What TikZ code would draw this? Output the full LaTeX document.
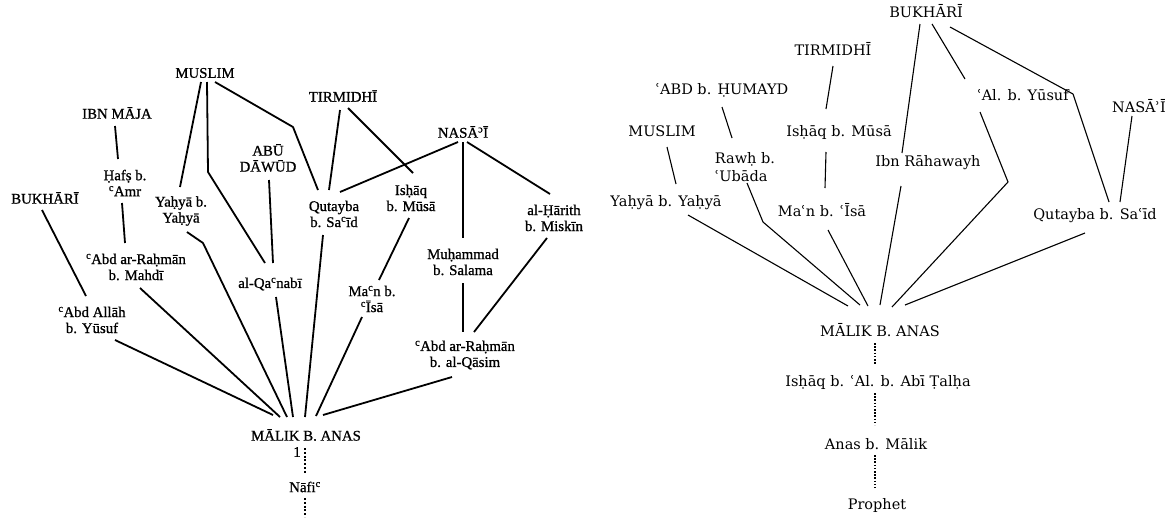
\documentclass[tikz,border=0pt]{standalone}
\usepackage{fontspec}
\newfontfamily\lfont[FakeBold=0.9]{Liberation Serif}
\newfontfamily\rfont{DejaVu Serif}
% raised ayn and hamza for the left tree
\newcommand{\ay}{\textsuperscript{c}}
\newcommand{\hz}{\textsuperscript{ɔ}}
\begin{document}
\begin{tikzpicture}[x=1pt,y=-1pt,
  lname/.style={font=\lfont\fontsize{14.8}{16}\selectfont, inner sep=0pt, align=center},
  rname/.style={font=\rfont\fontsize{14.5}{18}\selectfont, inner sep=0pt, align=center},
  llink/.style={line width=1.8pt, line join=round},
  rlink/.style={line width=1.1pt, line join=round},
  ldots/.style={line width=1.8pt, dash pattern=on 2pt off 1.8pt},
  rdots/.style={line width=1.2pt, dash pattern=on 1.6pt off 1.6pt}]
\useasboundingbox (0,0) rectangle (1173,517);

% ---------------- left tree ----------------
\node[lname] (muslimL)   at (205,73)  {MUSLIM};
\node[lname] (ibnmaja)   at (117,113) {IBN MĀJA};
\node[lname] (hafs)      at (125,183) {Ḥafṣ b.\\\ay Amr};
\node[lname] (bukhariL)  at (45,198)  {BUKHĀRĪ};
\node[lname] (yahyaL)    at (181,211) {Yaḥyā b.\\Yaḥyā};
\node[lname] (abudawud)  at (268,158) {ABŪ\\DĀWŪD};
\node[lname] (tirmidhiL) at (343,96)  {TIRMIDHĪ};
\node[lname] (nasaiL)    at (463,132) {NASĀ\hz Ī};
\node[lname] (qutaybaL)  at (334,214) {Qutayba\\b. Sa\ay īd};
\node[lname] (ishaqL)    at (411,198) {Isḥāq\\b. Mūsā};
\node[lname] (harith)    at (554,218) {al-Ḥārith\\b. Miskīn};
\node[lname] (abdmahdi)  at (136,267) {\ay Abd ar-Raḥmān\\b. Mahdī};
\node[lname] (abdallah)  at (92,320)  {\ay Abd Allāh\\b. Yūsuf};
\node[lname] (qanabi)    at (270,284) {al-Qa\ay nabī};
\node[lname] (maanL)     at (372,299) {Ma\ay n b.\\\ay Īsā};
\node[lname] (muhammad)  at (463,262) {Muḥammad\\b. Salama};
\node[lname] (qasim)     at (465,355) {\ay Abd ar-Raḥmān\\b. al-Qāsim};
\node[lname] (malikL)    at (306,435) {MĀLIK B. ANAS};
\node[lname] (one)       at (297,452) {1};
\node[lname] (nafi)      at (305,487) {Nāfi\ay};
\coordinate (lowend) at (305,517);

\draw[llink] ([shift={(-3,12)}]bukhariL.center) -- ([shift={(-6,-24)}]abdallah.center);
\draw[llink] ([shift={(23,20)}]abdallah.center) -- ([shift={(-33,-20)}]malikL.center);
\draw[llink] ([shift={(-2,13)}]ibnmaja.center) -- ([shift={(-7,-24)}]hafs.center);
\draw[llink] ([shift={(-3,20)}]hafs.center) -- ([shift={(-11,-24)}]abdmahdi.center);
\draw[llink] ([shift={(4,21)}]abdmahdi.center) -- ([shift={(-26,-18)}]malikL.center);
\draw[llink] ([shift={(-4,9)}]muslimL.center) -- ([shift={(-1,-24)}]yahyaL.center);
\draw[llink] ([shift={(6,21)}]yahyaL.center) -- ([shift={(22,32)}]yahyaL.center)
             -- ([shift={(-19,-18)}]malikL.center);
\draw[llink] ([shift={(2,9)}]muslimL.center) -- ([shift={(3,99)}]muslimL.center)
             -- ([shift={(-5,-21)}]qanabi.center);
\draw[llink] ([shift={(1,22)}]abudawud.center) -- ([shift={(3,-21)}]qanabi.center);
\draw[llink] ([shift={(6,13)}]qanabi.center) -- ([shift={(-13,-18)}]malikL.center);
\draw[llink] ([shift={(10,9)}]muslimL.center) -- ([shift={(88,54)}]muslimL.center)
             -- ([shift={(-16,-24)}]qutaybaL.center);
\draw[llink] ([shift={(-3,14)}]tirmidhiL.center) -- ([shift={(-5,-24)}]qutaybaL.center);
\draw[llink] ([shift={(5,12)}]tirmidhiL.center) -- ([shift={(2,-25)}]ishaqL.center);
\draw[llink] ([shift={(-5,10)}]nasaiL.center) -- ([shift={(6,-22)}]qutaybaL.center);
\draw[llink] ([shift={(0,10)}]nasaiL.center) -- ([shift={(0,-24)}]muhammad.center);
\draw[llink] ([shift={(4,10)}]nasaiL.center) -- ([shift={(-4,-24)}]harith.center);
\draw[llink] ([shift={(-11,21)}]qutaybaL.center) -- ([shift={(-1,-18)}]malikL.center);
\draw[llink] ([shift={(-2,20)}]ishaqL.center) -- ([shift={(7,-19)}]maanL.center);
\draw[llink] ([shift={(-10,18)}]maanL.center) -- ([shift={(10,-19)}]malikL.center);
\draw[llink] ([shift={(0,21)}]muhammad.center) -- ([shift={(-2,-23)}]qasim.center);
\draw[llink] ([shift={(-7,20)}]harith.center) -- ([shift={(9,-23)}]qasim.center);
\draw[llink] ([shift={(-13,22)}]qasim.center) -- ([shift={(17,-20)}]malikL.center);
\draw[ldots] ([shift={(-1,13)}]malikL.center) -- ([shift={(0,-14)}]nafi.center);
\draw[ldots] ([shift={(0,11)}]nafi.center) -- (lowend);

% ---------------- right tree ----------------
\node[rname] (tirmidhiR)  at (833,49)  {TIRMIDHĪ};
\node[rname] (abdhumayd)  at (722,90)  {ʿABD b. ḤUMAYD};
\node[rname] (muslimR)    at (662,131) {MUSLIM};
\node[rname] (ishaqR)     at (839,132) {Isḥāq b. Mūsā};
\node[rname, align=left] (rawh) at (745,167) {Rawḥ b.\\ʿUbāda};
\node[rname] (yahyaR)     at (666,203) {Yaḥyā b. Yaḥyā};
\node[rname] (maanR)      at (822,210) {Maʿn b. ʿĪsā};
\node[rname] (bukhariR)   at (926,11)  {BUKHĀRĪ};
\node[rname] (alyusuf)    at (1023,95) {ʿAl. b. Yūsuf};
\node[rname] (nasaiR)     at (1139,106) {NASĀʾĪ};
\node[rname] (rahawayh)   at (928,163) {Ibn Rāhawayh};
\node[rname] (qutaybaR)   at (1095,216) {Qutayba b. Saʿīd};
\node[rname] (malikR)     at (880,330) {MĀLIK B. ANAS};
\node[rname] (ishaqtalha) at (878,382) {Isḥāq b. ʿAl. b. Abī Ṭalḥa};
\node[rname] (anas)       at (876,444) {Anas b. Mālik};
\node[rname] (prophet)    at (877,505) {Prophet};

\draw[rlink] ([shift={(0,17)}]tirmidhiR.center) -- ([shift={(-13,-23)}]ishaqR.center);
\draw[rlink] ([shift={(-13,20)}]ishaqR.center) -- ([shift={(3,-22)}]maanR.center);
\draw[rlink] ([shift={(0,17)}]abdhumayd.center) -- ([shift={(-13,-29)}]rawh.center);
\draw[rlink] ([shift={(5,16)}]muslimR.center) -- ([shift={(10,-19)}]yahyaR.center);
\draw[rlink] ([shift={(2,16)}]rawh.center) -- ([shift={(18,55)}]rawh.center)
             -- ([shift={(-20,-25)}]malikR.center);
\draw[rlink] ([shift={(22,12)}]yahyaR.center) -- ([shift={(-32,-24)}]malikR.center);
\draw[rlink] ([shift={(6,20)}]maanR.center) -- ([shift={(-12,-24)}]malikR.center);
\draw[rlink] ([shift={(-6,13)}]bukhariR.center) -- ([shift={(-26,-10)}]rahawayh.center);
\draw[rlink] ([shift={(-27,23)}]rahawayh.center) -- ([shift={(0,-25)}]malikR.center);
\draw[rlink] ([shift={(6,13)}]bukhariR.center) -- ([shift={(-58,-16)}]alyusuf.center);
\draw[rlink] ([shift={(-43,17)}]alyusuf.center) -- ([shift={(-15,87)}]alyusuf.center)
             -- ([shift={(12,-23)}]malikR.center);
\draw[rlink] ([shift={(24,16)}]bukhariR.center) -- ([shift={(147,83)}]bukhariR.center)
             -- ([shift={(14,-14)}]qutaybaR.center);
\draw[rlink] ([shift={(-7,10)}]nasaiR.center) -- ([shift={(25,-14)}]qutaybaR.center);
\draw[rlink] ([shift={(-10,17)}]qutaybaR.center) -- ([shift={(25,-25)}]malikR.center);
\draw[rdots] ([shift={(-5,13)}]malikR.center) -- ([shift={(-3,-17)}]ishaqtalha.center);
\draw[rdots] ([shift={(-3,11)}]ishaqtalha.center) -- ([shift={(-1,-19)}]anas.center);
\draw[rdots] ([shift={(-1,11)}]anas.center) -- ([shift={(-2,-17)}]prophet.center);
\end{tikzpicture}
\end{document}
